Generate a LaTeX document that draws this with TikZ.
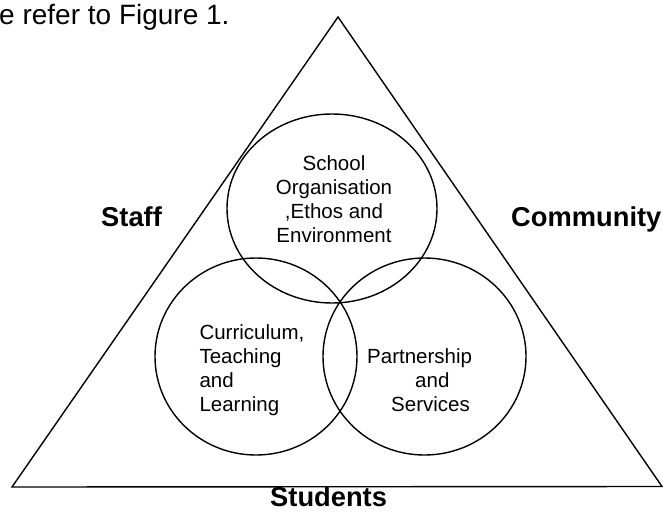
\documentclass[tikz,border=0pt]{standalone}
\usepackage{fontspec}
\setmainfont{Liberation Sans}
\usetikzlibrary{shapes.geometric}
\begin{document}
\begin{tikzpicture}[x=1pt,y=-1pt,
  ring/.style={draw, ellipse, line width=1.4pt, inner sep=0pt},
  lbl/.style={font=\fontsize{27.3}{33}\selectfont\bfseries, inner sep=0pt, anchor=base west},
  body/.style={font=\fontsize{20.5}{24.3}\selectfont, inner sep=0pt, anchor=base west},
  mid/.style={font=\fontsize{20.5}{24.3}\selectfont, inner sep=0pt, anchor=base},
  intro/.style={font=\fontsize{28}{33}\selectfont, inner sep=0pt, anchor=base west},
  edge/.style={line width=1.4pt, line join=miter}]
\useasboundingbox (0,0) rectangle (663,511);
\coordinate (apex) at (338,17);
\coordinate (bl) at (12,487);
\coordinate (br) at (662,486.5);
\draw[edge] (apex) -- (bl) -- (br) -- cycle;

\node[ring, minimum width=210, minimum height=189] (top) at (332,208.5) {};
\node[ring, minimum width=202, minimum height=197] (left) at (256,356.5) {};
\node[ring, minimum width=203, minimum height=197] (right) at (424.5,356.5) {};

\node[intro] (intro) at (-1,24.5) {e refer to Figure 1.};

\node[mid] (t1) at (334,170) {School};
\node[mid] (t2) at (334,194.3) {Organisation};
\node[mid] (t3) at (334,218.6) {,Ethos and};
\node[mid] (t4) at (334,242.9) {Environment};

\node[body] (l1) at (199.3,339) {Curriculum,};
\node[body] (l2) at (199.3,363.3) {Teaching};
\node[body] (l3) at (199.3,387.6) {and};
\node[body] (l4) at (199.3,411.9) {Learning};

\node[body] (r1) at (367,363.3) {Partnership};
\node[body] (r2) at (415,387.6) {and};
\node[body] (r3) at (391,411.9) {Services};

\node[lbl] (staff) at (101,226) {Staff};
\node[lbl] (community) at (511,226.5) {Community};
\node[lbl] (students) at (270,506.5) {Students};
\end{tikzpicture}
\end{document}
